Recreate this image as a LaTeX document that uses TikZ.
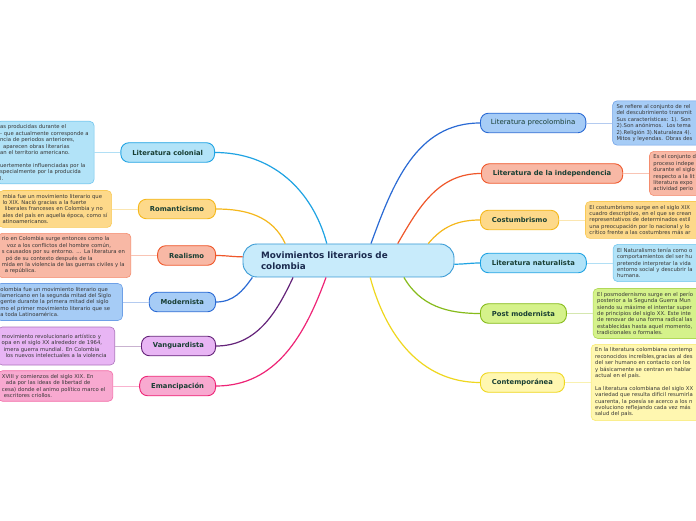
\documentclass[tikz,border=0pt]{standalone}
\usepackage{fontspec}
\setmainfont{DejaVu Sans}
\usepackage{xcolor}
\usetikzlibrary{positioning}
% colour themes: Fill = box, Line = border and branch
\definecolor{skyFill}{HTML}{B2E3F8}    \definecolor{skyLine}{HTML}{1FA3E3}
\definecolor{amberFill}{HTML}{FDD98A}  \definecolor{amberLine}{HTML}{F5B81C}
\definecolor{coralFill}{HTML}{F8B8A5}  \definecolor{coralLine}{HTML}{EF572A}
\definecolor{azureFill}{HTML}{A6CCF6}  \definecolor{azureLine}{HTML}{2A6AD4}
\definecolor{violetFill}{HTML}{E8B5F4} \definecolor{violetLine}{HTML}{65247A}
\definecolor{roseFill}{HTML}{F8A9D0}   \definecolor{roseLine}{HTML}{EE2476}
\definecolor{limeFill}{HTML}{D5F28B}   \definecolor{limeLine}{HTML}{86BB1B}
\definecolor{lemonFill}{HTML}{FFF7B0}  \definecolor{lemonLine}{HTML}{EFD71E}
\definecolor{centralFill}{HTML}{C8EBFB}\definecolor{centralLine}{HTML}{3A9BD5}
\definecolor{titletext}{HTML}{1B2A4E}
\definecolor{labeltext}{HTML}{183E33}
\definecolor{notetext}{HTML}{363636}

\begin{document}
\begin{tikzpicture}[
    x=1pt, y=1pt,
    node distance=26pt,
    hub/.style  ={draw=centralLine,fill=centralFill,line width=0.9pt,rounded corners=14pt,
                  minimum width=211pt,minimum height=33pt,text width=175pt,inner xsep=18pt,
                  align=left,font=\fontsize{8.8}{11.5}\selectfont\bfseries,text=titletext},
    topic/.style={draw=#1Line,fill=#1Fill,line width=0.9pt,rounded corners=8pt,
                  minimum height=19.5pt,inner xsep=11.5pt,inner ysep=0pt,
                  font=\fontsize{6.8}{8}\selectfont\bfseries,text=labeltext},
    note/.style ={draw=#1Line!45!#1Fill,fill=#1Fill,line width=0.6pt,rounded corners=4.5pt,
                  inner xsep=4pt,inner ysep=3.6pt,align=left,
                  font=\fontsize{5.3}{6.4}\selectfont,text=notetext},
    branch/.style={draw=#1Line,line width=1.2pt},
    twig/.style  ={draw=#1Line!35!white,line width=0.9pt},
    ]
    \useasboundingbox (0,0) rectangle (696,520);
    \clip (0,0) rectangle (696,520);
    \fill[white] (0,0) rectangle (696,520);

    \node[hub] (central) at (348.5,259.5) {Movimientos literarios de\\colombia};

    % left branches
    \node[topic=sky,anchor=east]    (colonial) at (215,367.5) {Literatura colonial};
    \node[topic=amber,anchor=east]  (roman)    at (216,311)   {Romanticismo};
    \node[topic=coral,anchor=east]  (realismo) at (216,264.5) {Realismo};
    \node[topic=azure,anchor=east]  (modern)   at (216,218)   {Modernista};
    \node[topic=violet,anchor=east] (vanguard) at (216,174)   {Vanguardista};
    \node[topic=rose,anchor=east]   (emancip)  at (216,134)   {Emancipación};

    % right branches
    \node[topic=azure,anchor=west,font=\fontsize{7}{8}\selectfont,inner xsep=10.5pt]
                                    (precol)   at (480,397)   {Literatura precolombina};
    \node[topic=coral,anchor=west]  (indep)    at (481,346.5) {Literatura de la independencia};
    \node[topic=amber,anchor=west]  (costum)   at (480,300)   {Costumbrismo};
    \node[topic=sky,anchor=west]    (natural)  at (480,257)   {Literatura naturalista};
    \node[topic=lime,anchor=west]   (postmod)  at (480,206.5) {Post modernista};
    \node[topic=lemon,anchor=west]  (contemp)  at (480,137.5) {Contemporánea};

    % notes, left
    \node[note=sky,left=of colonial,text width=90pt] (colonialnote) {as producidas durante el\\
      - que actualmente corresponde a\\ ncia de periodos anteriores,\\
      \hspace*{3pt}aparecen obras literarias\\ an el territorio americano.\\[6.4pt]
      uertemente influenciadas por la\\ specialmente por la producida\\ l.};
    \node[note=amber,left=of roman,text width=105pt] (romannote) {mbia fue un movimiento literario que\\
      lo XIX. Nació gracias a la fuerte\\ \hspace*{2pt}liberales franceses en Colombia y no\\
      ales del país en aquella época, como sí\\ atinoamericanos.};
    \node[note=coral,left=of realismo,text width=125pt] (realismonote) {rio en Colombia surge entonces como la\\
      \hspace*{5pt}voz a los conflictos del hombre común,\\ s causados por su entorno. ... La literatura en\\
      \hspace*{4pt}pó de su contexto después de la\\ mida en la violencia de las guerras civiles y la\\
      \hspace*{3pt}a república.};
    \node[note=azure,left=of modern,text width=118pt] (modernnote) {olombia fue un movimiento literario que\\
      lamericano en la segunda mitad del Siglo\\ gente durante la primera mitad del siglo\\
      mo el primer movimiento literario que se\\ a toda Latinoamérica.};
    \node[note=violet,left=of vanguard,text width=109pt,minimum height=38pt] (vanguardnote) {movimiento revolucionario artístico y\\
      opa en el siglo XX alrededor de 1964,\\ \hspace*{2pt}imera guerra mundial. En Colombia\\
      \hspace*{4pt}los nuevos intelectuales a la violencia};
    \node[note=rose,left=of emancip,text width=107pt] (emancipnote) {XVIII y comienzos del siglo XIX. En\\
      \hspace*{4pt}ada por las ideas de libertad de\\ cesa) donde el animo político marco el\\
      \hspace*{2pt}escritores criollos.};

    % notes, right
    \node[note=azure,right=of precol,text width=150pt] (precolnote) {Se refiere al conjunto de rel\\
      del descubrimiento transmit\\ Sus características: 1). Son\\
      2).Son anónimos.~~Los tema\\ 2).Religión 3).Naturaleza 4).\\ Mitos y leyendas. Obras des};
    \node[note=coral,right=of indep,text width=150pt] (indepnote) {Es el conjunto de\\
      proceso indepe\\ durante el siglo\\ respecto a la lit\\ literatura expo\\ actividad perio};
    \node[note=amber,right=of costum,text width=150pt] (costumnote) {El costumbrismo surge en el siglo XIX\\
      cuadro descriptivo, en el que se crean\\ representativos de determinados estil\\
      una preocupación por lo nacional y lo\\ crítico frente a las costumbres más ar};
    \node[note=sky,right=of natural,text width=150pt] (naturalnote) {El Naturalismo tenía como o\\
      comportamientos del ser hu\\ pretende interpretar la vida\\
      entorno social y descubrir la\\ humana.};
    \node[note=lime,right=of postmod,text width=150pt] (postmodnote) {El posmodernismo surge en el perío\\
      posterior a la Segunda Guerra Mun\\ siendo su máxime el intentar super\\
      de principios del siglo XX. Este inte\\ de renovar de una forma radical las\\
      establecidas hasta aquel momento,\\ tradicionales o formales.};
    \node[note=lemon,right=of contemp,text width=150pt] (contempnote) {En la literatura colombiana contemp\\
      reconocidos increíbles,gracias al des\\ del ser humano en contacto con los\\
      y básicamente se centran en hablar\\ actual en el país.\\[6.4pt]
      La literatura colombiana del siglo XX\\ variedad que resulta difícil resumirla\\
      cuarenta, la poesía se acerco a los n\\ evoluciono reflejando cada vez más\\ salud del país.};

    % branches from the hub
    \draw[branch=sky]    (central.142) to[out=105,in=0]  (colonial.east);
    \draw[branch=amber]  (central.165) to[out=115,in=0]  (roman.east);
    \draw[branch=coral]  (central.178) to[out=180,in=0]  (realismo.east);
    \draw[branch=azure]  (central.190) to[out=235,in=0]  (modern.east);
    \draw[branch=violet] (central.197) to[out=245,in=0]  (vanguard.east);
    \draw[branch=rose]   (central.217) to[out=250,in=0]  (emancip.east);
    \draw[branch=azure]  (central.37)  to[out=70,in=180] (precol.west);
    \draw[branch=coral]  (central.19)  to[out=60,in=180] (indep.west);
    \draw[branch=amber]  (central.12)  to[out=50,in=180] (costum.west);
    \draw[branch=sky]    (central.358) to[out=0,in=180]  (natural.west);
    \draw[branch=lime]   (central.343) to[out=-60,in=180] (postmod.west);
    \draw[branch=lemon]  (central.322) to[out=-75,in=180] (contemp.west);

    % twigs to the notes
    \draw[twig=sky]    (colonial) -- (colonialnote);
    \draw[twig=amber]  (roman)    -- (romannote);
    \draw[twig=coral]  (realismo) -- (realismonote);
    \draw[twig=azure]  (modern)   -- (modernnote);
    \draw[twig=violet] (vanguard) -- (vanguardnote);
    \draw[twig=rose]   (emancip)  -- (emancipnote);
    \draw[twig=azure]  (precol)   -- (precolnote);
    \draw[twig=coral]  (indep)    -- (indepnote);
    \draw[twig=amber]  (costum)   -- (costumnote);
    \draw[twig=sky]    (natural)  -- (naturalnote);
    \draw[twig=lime]   (postmod)  -- (postmodnote);
    \draw[twig=lemon]  (contemp)  -- (contempnote);
\end{tikzpicture}
\end{document}
